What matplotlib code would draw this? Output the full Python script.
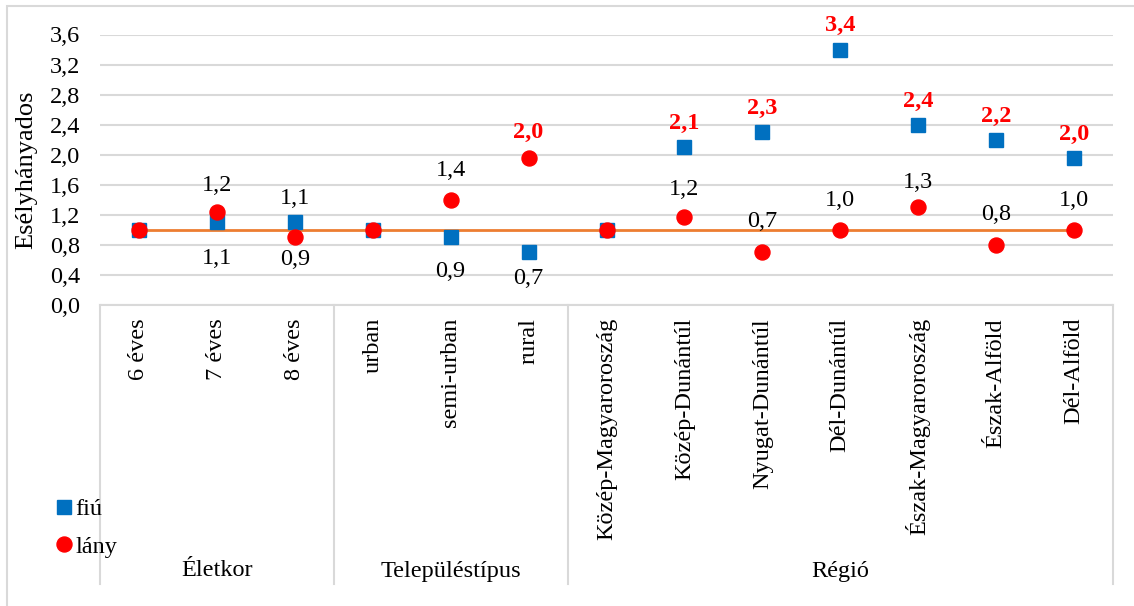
import matplotlib
matplotlib.use("Agg")
import matplotlib.pyplot as plt
import matplotlib.transforms as mtransforms
from matplotlib.lines import Line2D
from matplotlib.patches import Rectangle

# ---------------- data ----------------
categories = ["6 éves", "7 éves", "8 éves",
              "urban", "semi-urban", "rural",
              "Közép-Magyaroroszág", "Közép-Dunántúl", "Nyugat-Dunántúl",
              "Dél-Dunántúl", "Észak-Magyaroroszág", "Észak-Alföld", "Dél-Alföld"]
groups = ["Életkor", "Településtípus", "Régió"]
group_sizes = [3, 3, 7]
fiu = [1.0, 1.1, 1.1, 1.0, 0.9, 0.7, 1.0, 2.1, 2.3, 3.4, 2.4, 2.2, 1.96]
lany = [1.0, 1.24, 0.9, 1.0, 1.4, 1.96, 1.0, 1.17, 0.7, 1.0, 1.3, 0.8, 1.0]
reference = [1.0] * len(categories)
fiu_signif = [False, False, False, False, False, False, False, True, True, True, True, True, True]
lany_signif = [False, False, False, False, False, True, False, False, False, False, False, False, False]
yticks = [0.0, 0.4, 0.8, 1.2, 1.6, 2.0, 2.4, 2.8, 3.2, 3.6]
series_names = ["fiú", "lány"]
ylabel = "Esélyhányados"

# ---------------- style ----------------
# data-label vertical offsets in points (None = no label)
fiu_label_dy = [None, -26, 17, None, -24.5, -19, None, 17, 17, 17, 17, 17, 17]
lany_label_dy = [None, 19, -16, None, 21, 18, None, 20, 22, 21, 18, 22, 21]

W, H = 1134, 606
DPI = 100
FS = 17.5
plt.rcParams["font.family"] = ["Liberation Serif", "DejaVu Serif"]
plt.rcParams["font.size"] = FS
BLUE = "#0070C0"
RED = "#FF0000"
ORANGE = "#ED7D31"
GRID = "#D9D9D9"

fig = plt.figure(figsize=(W / DPI, H / DPI), dpi=DPI)
fig.patch.set_facecolor("white")

def fx(px):
    return px / W

def fy(py):
    return 1 - py / H

ax_left, ax_right, ax_top, ax_bottom = 100, 1113, 34.5, 305
ax = fig.add_axes([fx(ax_left), fy(ax_bottom), fx(ax_right - ax_left), (ax_bottom - ax_top) / H])

x = list(range(len(categories)))
ax.set_xlim(-0.5, len(categories) - 0.5)
ax.set_ylim(0, 3.6)
ax.set_yticks(yticks)
ax.set_yticklabels([f"{t:.1f}".replace(".", ",") for t in yticks])
ax.tick_params(axis="y", length=0, pad=14, labelsize=FS)
ax.set_xticks([])
for s in ["top", "right", "left"]:
    ax.spines[s].set_visible(False)
ax.spines["bottom"].set_color(GRID)
ax.spines["bottom"].set_linewidth(1.5)
ax.grid(axis="y", color=GRID, linewidth=1.5)
ax.set_axisbelow(True)

ax.plot(x, reference, color=ORANGE, linewidth=2.0, zorder=2)
h1, = ax.plot(x, fiu, linestyle="none", marker="s", markersize=10.5,
              color=BLUE, label=series_names[0], zorder=3)
h2, = ax.plot(x, lany, linestyle="none", marker="o", markersize=10.8,
              color=RED, label=series_names[1], zorder=4)

def add_labels(vals, offsets, signif):
    for xi, v, dy, sg in zip(x, vals, offsets, signif):
        if dy is None:
            continue
        txt = f"{v:.1f}".replace(".", ",")
        color = RED if sg else "black"
        weight = "bold" if sg else "normal"
        ax.annotate(txt, (xi, v), xytext=(0, dy), textcoords="offset points",
                    ha="center", va="center", color=color, fontweight=weight,
                    fontsize=FS, annotation_clip=False)

add_labels(fiu, fiu_label_dy, fiu_signif)
add_labels(lany, lany_label_dy, lany_signif)

# category axis (multi-level)
bt = mtransforms.blended_transform_factory(ax.transData, fig.transFigure)
for xi, c in zip(x, categories):
    ax.text(xi, fy(318), c, rotation=90, ha="center", va="top",
            transform=bt, fontsize=FS, clip_on=False)

bounds = [-0.5]
for g in group_sizes:
    bounds.append(bounds[-1] + g)
for b in bounds:
    fig.add_artist(Line2D([b, b], [fy(ax_bottom), fy(584)], transform=bt,
                          color=GRID, linewidth=1.5))
for g, a, b in zip(groups, bounds[:-1], bounds[1:]):
    ax.text((a + b) / 2, fy(571), g, ha="center", va="center",
            transform=bt, fontsize=FS, clip_on=False)

# y label
fig.text(fx(26), fy(170), ylabel, rotation=90, ha="center", va="center", fontsize=19)

# legend
fig.legend(handles=[h1, h2], loc="center left", bbox_to_anchor=(fx(57), fy(528)),
           frameon=False, handlelength=0.55, handletextpad=0.2, labelspacing=0.62,
           borderpad=0, borderaxespad=0, fontsize=FS)

# chart border
fig.add_artist(Rectangle((fx(7), fy(H + 5)), fx(W + 10), (H + 5 - 6) / H,
                         transform=fig.transFigure, fill=False,
                         edgecolor=GRID, linewidth=1.5))

fig.savefig("out.png", dpi=DPI)
